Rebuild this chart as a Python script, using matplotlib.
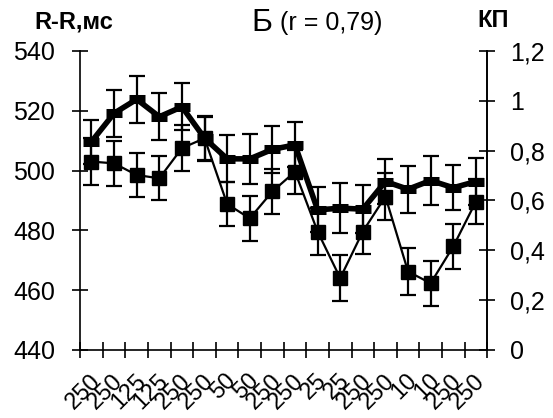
import numpy as np
import matplotlib
matplotlib.use("Agg")
import matplotlib.pyplot as plt
from matplotlib.ticker import FixedLocator, FixedFormatter

plt.rcParams['font.family'] = ['Liberation Sans', 'DejaVu Sans']

# doses along the x axis
labels = ['250', '250', '125', '125', '250', '250', '50', '50', '250',
          '250', '25', '25', '250', '250', '10', '10', '250', '250']

# R-R interval, ms (left axis, square markers)
rr = [503, 502.4, 498.5, 497.4, 507.5, 510.8, 488.8, 484, 493,
      499.6, 479.6, 464, 479.6, 491.3, 466.2, 462.3, 474.6, 489.6]
rr_err = [7.8, 7.5, 7.5, 7.4, 7.6, 7.2, 7.4, 7.5, 7.5,
          7.3, 7.8, 7.6, 7.5, 7.8, 7.8, 7.6, 7.6, 7.5]

# KP (right axis, thick line)
kp = [0.836, 0.95, 1.006, 0.936, 0.976, 0.85, 0.767, 0.767, 0.805,
      0.823, 0.562, 0.569, 0.565, 0.676, 0.645, 0.68, 0.651, 0.676]
kp_err = [0.088, 0.095, 0.095, 0.095, 0.095, 0.09, 0.095, 0.1, 0.095,
          0.09, 0.09, 0.1, 0.095, 0.09, 0.095, 0.1, 0.09, 0.095]

x = np.arange(len(labels)) + 0.5

fig = plt.figure(figsize=(5.53, 4.18), dpi=100)
ax = fig.add_axes([0.145, 0.163, 0.736, 0.715])
ax2 = ax.twinx()

ax.errorbar(x, rr, yerr=rr_err, color='black', lw=1.6, marker='s', ms=10,
            capsize=5.5, elinewidth=1.6, capthick=1.6, zorder=3)
ax2.errorbar(x, kp, yerr=kp_err, fmt='none', ecolor='black', capsize=5.5,
             elinewidth=1.6, capthick=1.6, zorder=3)
ax2.plot(x, kp, color='black', lw=4, marker='_', ms=11, mew=6.5, zorder=4)

ax.set_xlim(0, len(labels))
ax.set_ylim(440, 540)
ax.set_yticks(np.arange(440, 541, 20))
ax2.set_ylim(0, 1.2)
ax2.set_yticks([0, 0.2, 0.4, 0.6, 0.8, 1.0, 1.2])
ax2.set_yticklabels(['0', '0,2', '0,4', '0,6', '0,8', '1', '1,2'])

for a in (ax, ax2):
    a.spines['top'].set_visible(False)
    for s in a.spines.values():
        s.set_linewidth(1.2)
ax2.spines['left'].set_visible(False)
ax2.spines['bottom'].set_visible(False)

# boundaries get the tick marks, labels sit a little right of the centres
ax.xaxis.set_major_locator(FixedLocator(np.arange(0, len(labels) + 1)))
ax.xaxis.set_major_formatter(FixedFormatter([''] * (len(labels) + 1)))
ax.xaxis.set_minor_locator(FixedLocator(x + 0.25))
ax.xaxis.set_minor_formatter(FixedFormatter(labels))
ax.tick_params(axis='x', which='major', direction='inout', length=12, width=1.2)
ax.tick_params(axis='x', which='minor', length=0, pad=20, labelsize=17,
               labelrotation=45)
for t in ax.xaxis.get_minorticklabels():
    t.set_ha('right')
    t.set_va('center')
    t.set_rotation_mode('anchor')

ax.tick_params(axis='y', direction='inout', length=12, width=1.2, pad=12,
               labelsize=18)
ax2.tick_params(axis='y', direction='inout', length=12, width=1.2, pad=10.5,
                labelsize=18)

fig.text(0.063, 0.947, 'R-R,мс', fontsize=17, fontweight='bold', va='center')
fig.text(0.864, 0.95, 'КП', fontsize=17, fontweight='bold', va='center')
fig.text(0.455, 0.944, 'Б', fontsize=23, va='center')
fig.text(0.506, 0.944, '(r = 0,79)', fontsize=18, va='center')

fig.savefig('out.png', dpi=100)
